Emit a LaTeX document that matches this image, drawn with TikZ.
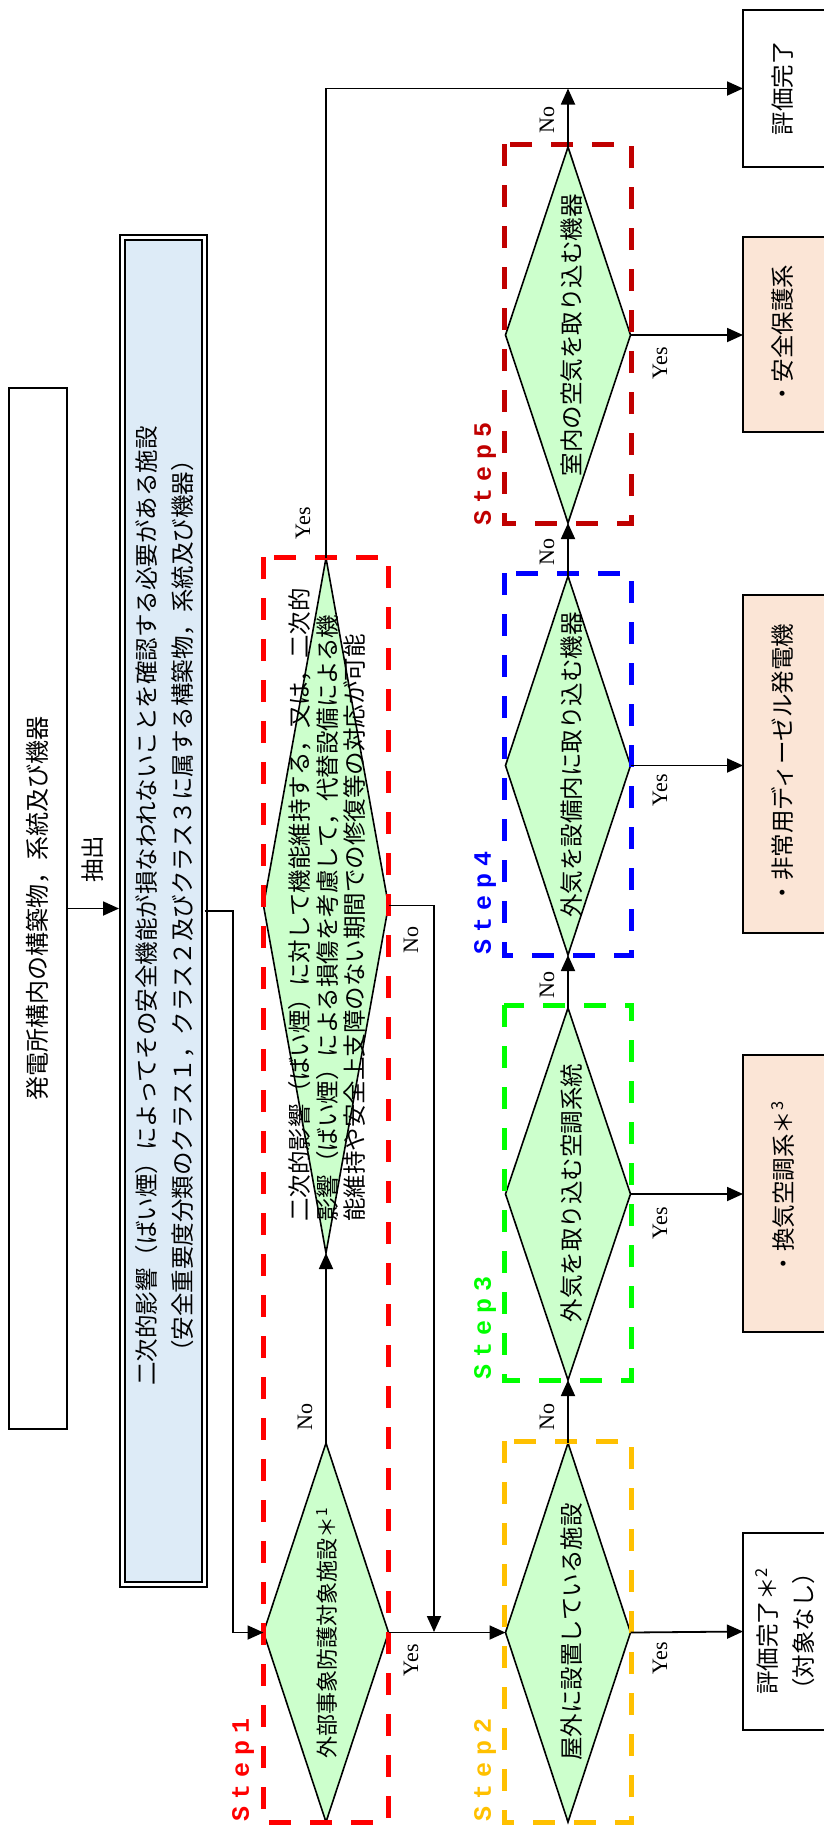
\documentclass[tikz,border=0pt]{standalone}
\usepackage{fontspec}
\setmainfont{Noto Sans CJK JP}
\newfontfamily\latf{Liberation Serif}
\newfontfamily\monof{Liberation Mono}
\usetikzlibrary{arrows.meta,shapes.geometric}
\definecolor{decfill}{HTML}{CCFFCC}
\definecolor{bluefill}{HTML}{DDEBF7}
\definecolor{peach}{HTML}{FBE5D6}
\definecolor{stA}{HTML}{FF0000}
\definecolor{stB}{HTML}{FFC000}
\definecolor{stC}{HTML}{00FF00}
\definecolor{stD}{HTML}{0000FF}
\definecolor{stE}{HTML}{C00000}
\newcommand{\stepword}[1]{S\kern7pt t\kern7pt e\kern7pt p\kern7pt #1}
\begin{document}
\begin{tikzpicture}[x=1pt,y=-1pt,
  dec/.style={diamond, draw, line width=1.6pt, fill=decfill, inner sep=0pt, outer sep=0pt, minimum width=125pt},
  boxn/.style={rectangle, draw, line width=1.8pt, inner sep=0pt, outer sep=0pt, minimum width=87pt},
  arr/.style={line width=1.8pt, -{Triangle[length=16pt,width=14pt]}},
  stepbox/.style={line width=5pt, dash pattern=on 22pt off 19pt},
  steplab/.style={rotate=90, anchor=west, inner sep=0pt, font=\monof\bfseries\fontsize{25pt}{28pt}\selectfont},
  yn/.style={rotate=90, inner sep=0pt, font=\latf\fontsize{22pt}{24pt}\selectfont},
  txt/.style={rotate=90, inner sep=0pt, align=center, font=\fontsize{23.5pt}{36pt}\selectfont},
]
\useasboundingbox (0,0) rectangle (824,1829);

% left boxes
\node (b1) [rectangle, draw, line width=1.8pt, inner sep=0pt, outer sep=0pt, minimum width=58pt, minimum height=1041pt] at (38,908.5) {};
\node (b2) [rectangle, draw, line width=1.8pt, double=white, double distance=3pt, fill=bluefill, inner sep=0pt, outer sep=0pt, minimum width=82.4pt, minimum height=1347.4pt] at (163.5,911) {};
\coordinate (b2L) at (119,908.5);

% decisions
\node (d1) [dec, minimum height=379pt] at (326,1632.5) {};
\node (dbig) [dec, minimum height=695pt] at (326,905.5) {};
\node (d2) [dec, minimum height=379pt] at (568,1632.5) {};
\node (d3) [dec, minimum height=372pt] at (568,1194) {};
\node (d4) [dec, minimum height=379pt] at (568,765.5) {};
\node (d5) [dec, minimum height=376pt] at (568,335) {};

% result boxes
\node (done) [boxn, fill=white, minimum height=157pt] at (786.5,88.5) {};
\node (r5) [boxn, fill=peach, minimum height=195pt] at (786.5,334.5) {};
\node (r4) [boxn, fill=peach, minimum height=338pt] at (786.5,764) {};
\node (r3) [boxn, fill=peach, minimum height=277pt] at (786.5,1193.5) {};
\node (end2) [boxn, fill=white, minimum height=197pt] at (786.5,1631.5) {};

% step boxes
\draw[stepbox, stA] (263,557) rectangle (388,1822);
\draw[stepbox, stB] (504,1441) rectangle (631,1822);
\draw[stepbox, stC] (504,1005) rectangle (631,1380);
\draw[stepbox, stD] (504,573) rectangle (631,955);
\draw[stepbox, stE] (504,144) rectangle (631,523);

% connectors
\draw[arr] (b1.east) -- (b1.east -| b2L);
\draw[arr] (b2.east) -- (233,911) |- (d1.west);
\draw[arr] (d1.north) -- (dbig.south);
\draw[arr] (dbig.north) |- (done.west);
\draw[arr] (dbig.east) -| (434,1632);
\draw[arr] (d1.east) -- (d2.west);
\draw[arr] (d2.east) -- (end2.west);
\draw[arr] (d2.north) -- (d3.south);
\draw[arr] (d3.east) -- (d3.east -| r3.west);
\draw[arr] (d3.north) -- (d4.south);
\draw[arr] (d4.east) -- (d4.east -| r4.west);
\draw[arr] (d4.north) -- (d5.south);
\draw[arr] (d5.east) -- (d5.east -| r5.west);
\draw[arr] (d5.north) -- (d5.north |- done.west);

% labels
\node[yn] at (305,1417) {No};
\node[yn] at (303,523) {Yes};
\node[yn] at (411,940) {No};
\node[yn] at (411,1660) {Yes};
\node[yn] at (660,1658) {Yes};
\node[yn] at (547,1417) {No};
\node[yn] at (660,1223) {Yes};
\node[yn] at (547,985) {No};
\node[yn] at (660,790) {Yes};
\node[yn] at (547,552) {No};
\node[yn] at (660,363) {Yes};
\node[yn] at (547,120) {No};

\node[steplab, text=stA] at (243,1822) {\stepword{1}};
\node[steplab, text=stB] at (485,1822) {\stepword{2}};
\node[steplab, text=stC] at (485,1380) {\stepword{3}};
\node[steplab, text=stD] at (485,955) {\stepword{4}};
\node[steplab, text=stE] at (485,526) {\stepword{5}};

% texts
\node[txt, font=\fontsize{24pt}{28pt}\selectfont] at (b1) {発電所構内の構築物，系統及び機器};
\node[txt] at (93,859) {抽出};
\node[txt] at (165,906) {二次的影響（ばい煙）によってその安全機能が損なわれないことを確認する必要がある施設\\（安全重要度分類のクラス１，クラス２及びクラス３に属する構築物，系統及び機器）};
\node[txt, font=\fontsize{22pt}{26pt}\selectfont] at (327,1633) {外部事象防護対象施設＊\textsuperscript{1}};
\node[txt, align=left, anchor=west, font=\fontsize{23.5pt}{27.5pt}\selectfont] at (327,1222) {二次的影響（ばい煙）に対して機能維持する，又は，二次的\\影響（ばい煙）による損傷を考慮して，代替設備による機\\能維持や安全上支障のない期間での修復等の対応が可能};
\node[txt] at (572,1632) {屋外に設置している施設};
\node[txt] at (572,1193) {外気を取り込む空調系統};
\node[txt] at (572,765) {外気を設備内に取り込む機器};
\node[txt] at (572,335) {室内の空気を取り込む機器};
\node[txt] at (783,88) {評価完了};
\node[txt] at (783,335) {・安全保護系};
\node[txt] at (783,764) {・非常用ディーゼル発電機};
\node[txt] at (783,1188) {・換気空調系＊\textsuperscript{3}};
\node[txt] at (785,1631) {評価完了＊\textsuperscript{2}\\（対象なし）};
\end{tikzpicture}
\end{document}
